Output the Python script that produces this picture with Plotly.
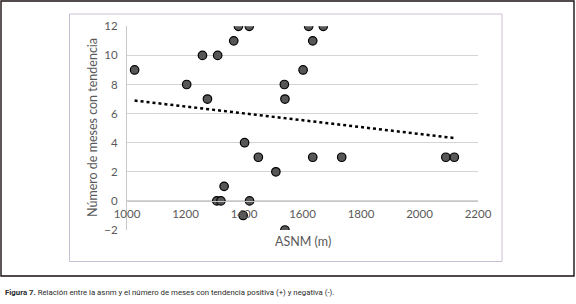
import numpy as np
import plotly.graph_objects as go

# Data
asnm = [1026, 1204, 1275, 1258, 1310, 1365, 1381, 1418, 1402, 1538, 1540,
        1621, 1671, 1635, 1602, 1449, 1509, 1332, 1307, 1321, 1419, 1397,
        1540, 1635, 1734, 2090, 2119]
meses = [9, 8, 7, 10, 10, 11, 12, 12, 4, 8, 7,
         12, 12, 11, 9, 3, 2, 1, 0, 0, 0, -1,
         -2, 3, 3, 3, 3]
x_ticks = [1000, 1200, 1400, 1600, 1800, 2000, 2200]
y_ticks = [-2, 0, 2, 4, 6, 8, 10, 12]

x_title = "ASNM (m)"
y_title = "Número de meses con tendencia"
caption = "<b>Figura 7.</b> Relación entre la asnm y el número de meses con tendencia positiva (+) y negativa (-)."

# linear trend line (least squares)
slope, intercept = np.polyfit(asnm, meses, 1)
tx = [min(asnm), max(asnm)]
ty = [slope * v + intercept for v in tx]

W, H = 576, 304
fig = go.Figure()
fig.add_trace(go.Scatter(x=tx, y=ty, mode="lines",
                         line=dict(color="black", width=2.5, dash="dot"),
                         hoverinfo="skip", showlegend=False))
fig.add_trace(go.Scatter(x=asnm, y=meses, mode="markers",
                         marker=dict(size=8.5, color="#575757",
                                     line=dict(color="black", width=1.2)),
                         showlegend=False))

tick_font = dict(family="Lato, Open Sans, sans-serif", size=11.5, color="#595959")
y0_frac = (H - 201) / H
fig.update_layout(
    width=W, height=H,
    margin=dict(l=0, r=0, t=0, b=0, autoexpand=False),
    paper_bgcolor="white", plot_bgcolor="white",
    xaxis=dict(range=[1000, 2200], tickvals=x_ticks,
               domain=[127 / W, 478 / W], automargin=False,
               anchor="free", position=y0_frac,
               showgrid=False, zeroline=False,
               showline=True, linecolor="#c8c8c8", linewidth=1,
               ticks="", tickfont=tick_font, ticklabelstandoff=2),
    yaxis=dict(range=[-2, 12], tickvals=y_ticks, automargin=False,
               domain=[(H - 230) / H, (H - 26.3) / H],
               showgrid=True, gridcolor="#d4d4d4", gridwidth=1,
               zeroline=False, showline=True, linecolor="#c8c8c8",
               ticks="", tickfont=tick_font, ticklabelstandoff=6),
    shapes=[
        dict(type="rect", xref="paper", yref="paper",
             x0=1 / W, x1=574 / W, y0=(H - 276) / H, y1=(H - 1) / H,
             line=dict(color="#1a1010", width=1.4)),
        dict(type="rect", xref="paper", yref="paper",
             x0=69.5 / W, x1=502 / W, y0=(H - 261.5) / H, y1=(H - 14) / H,
             line=dict(color="#c9bfd2", width=1)),
    ],
    annotations=[
        dict(text=y_title, xref="paper", yref="paper",
             x=92 / W, y=(H - 128) / H, textangle=-90, showarrow=False,
             font=dict(family="Lato, Open Sans, sans-serif", size=12.5, color="#595959"),
             xanchor="center", yanchor="middle"),
        dict(text=x_title, xref="paper", yref="paper",
             x=303 / W, y=(H - 241) / H, showarrow=False,
             font=dict(family="Lato, Open Sans, sans-serif", size=12.5, color="#595959"),
             xanchor="center", yanchor="middle"),
        dict(text=caption, xref="paper", yref="paper",
             x=3 / W, y=(H - 292) / H, showarrow=False,
             font=dict(family="Roboto, sans-serif", size=7.8, color="#2a2a2a"),
             xanchor="left", yanchor="middle"),
    ],
)
fig.write_html("out.html",
               config={"displayModeBar": False},
               post_script="document.body.style.margin='0';"
                           "document.body.style.overflow='hidden';")
